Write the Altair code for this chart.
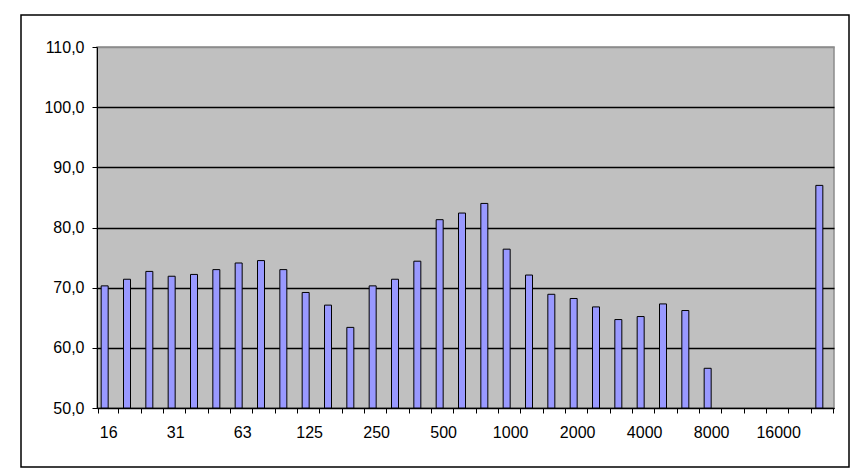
import altair as alt
import pandas as pd

bands = ["16", "20", "25", "31", "40", "50", "63", "80", "100", "125", "160",
         "200", "250", "315", "400", "500", "630", "800", "1000", "1250", "1600",
         "2000", "2500", "3150", "4000", "5000", "6300", "8000", "10000", "12500",
         "16000", "20000", "25000"]
levels = [70.3, 71.4, 72.7, 71.9, 72.2, 73.0, 74.1, 74.5, 73.0, 69.2, 67.1,
          63.4, 70.3, 71.4, 74.4, 81.3, 82.4, 84.0, 76.4, 72.1, 68.9,
          68.2, 66.8, 64.7, 65.2, 67.3, 66.2, 56.6, None, None,
          None, None, 87.0]
shown_labels = ["16", "31", "63", "125", "250", "500", "1000", "2000", "4000",
                "8000", "16000"]
y_ticks = [50, 60, 70, 80, 90, 100, 110]

df = pd.DataFrame({"band": bands, "level": levels})
df = df.dropna()

label_list = "[" + ",".join("'" + s + "'" for s in shown_labels) + "]"

bars = alt.Chart(df).mark_bar(
    size=7, xOffset=-3.5, color="#9999ff", stroke="black", strokeWidth=1, clip=True
).encode(
    x=alt.X("band:N", sort=bands,
            scale=alt.Scale(domain=bands),
            axis=alt.Axis(title=None, labelAngle=0, tickBand="extent",
                          labelExpr=f"indexof({label_list}, datum.value) >= 0 ? datum.value : ''",
                          labelOverlap=False, labelFont="Liberation Sans",
                          labelFontSize=16, labelColor="black", domainColor="black",
                          tickColor="black", tickSize=5, labelPadding=11,
                          grid=False)),
    y=alt.Y("level:Q",
            scale=alt.Scale(domain=[50, 110], nice=False, zero=False),
            axis=alt.Axis(title=None, values=y_ticks,
                          labelExpr="replace(format(datum.value, '.1f'), '.', ',')",
                          labelFont="Liberation Sans", labelFontSize=16,
                          labelColor="black", domainColor="black",
                          tickColor="black", tickSize=5, labelPadding=8,
                          grid=True,
                          gridColor={"condition": {"test": "datum.value >= 110", "value": "#8c8c8c"},
                                     "value": "black"},
                          gridWidth=1.3)),
    y2=alt.datum(50),
)

frame = alt.Chart(pd.DataFrame({"k": [0]})).mark_rect(
    fill=None, stroke="black", strokeWidth=1.5, clip=False
).encode(
    x=alt.value(-76), x2=alt.value(752), y=alt.value(-32), y2=alt.value(420)
)

chart = alt.layer(frame, bars).properties(
    width=737, height=361,
    padding={"left": 89, "top": 39, "right": 20, "bottom": 62},
    autosize=alt.AutoSizeParams(type="none"),
    background="white",
).configure_view(fill="#c0c0c0", stroke="#8c8c8c", strokeWidth=1.5)

chart.save("out.html", embed_options={"renderer": "svg", "actions": False})
